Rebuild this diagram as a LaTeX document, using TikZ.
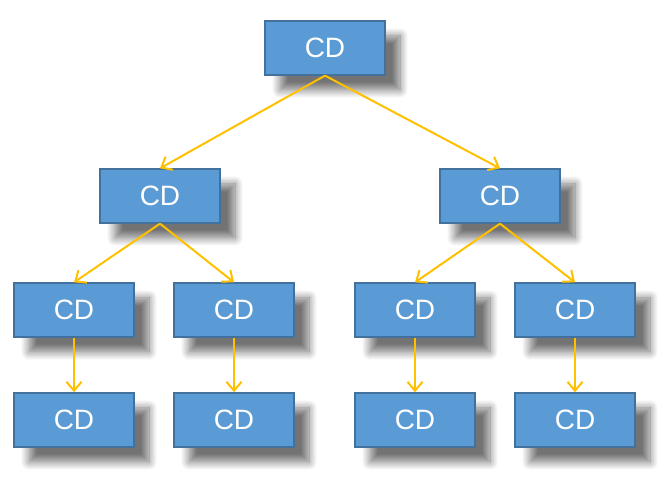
\documentclass[tikz,border=0pt]{standalone}
\usepackage{fontspec}
\setmainfont{Liberation Sans}
\usetikzlibrary{arrows.meta,shadows.blur}
\definecolor{boxfill}{HTML}{5B9BD5}
\definecolor{boxline}{HTML}{41719C}
\definecolor{link}{HTML}{FFC000}

\begin{document}
\begin{tikzpicture}[
  x=1pt,y=1pt,
  font=\fontsize{28}{32}\selectfont,
  box/.style={draw=boxline, line width=1.3pt, fill=boxfill, text=white,
    minimum width=120pt, minimum height=54pt, inner sep=0pt,
    blur shadow={shadow xshift=15pt, shadow yshift=-15pt,
      shadow blur radius=8pt, shadow blur steps=10, shadow opacity=55}},
  flow/.style={-{Straight Barb[length=9pt,width=15pt]}, line width=2pt, draw=link}
]
\useasboundingbox (0,0) rectangle (670,487);

% Level 1
\node[box] (root) at (325,439) {CD};

% Level 2
\node[box] (left) at (160,291) {CD};
\node[box] (right) at (500,291) {CD};

% Level 3
\node[box] (leftA) at (74,177) {CD};
\node[box] (leftB) at (234,177) {CD};
\node[box] (rightA) at (415,177) {CD};
\node[box] (rightB) at (575,177) {CD};

% Level 4
\node[box] (leftAleaf) at (74,67) {CD};
\node[box] (leftBleaf) at (234,67) {CD};
\node[box] (rightAleaf) at (415,67) {CD};
\node[box] (rightBleaf) at (575,67) {CD};

\draw[flow] (root.south) -- (left.north);
\draw[flow] (root.south) -- (right.north);
\draw[flow] (left.south) -- (leftA.north);
\draw[flow] (left.south) -- (leftB.north);
\draw[flow] (right.south) -- (rightA.north);
\draw[flow] (right.south) -- (rightB.north);
\draw[flow] (leftA.south) -- (leftAleaf.north);
\draw[flow] (leftB.south) -- (leftBleaf.north);
\draw[flow] (rightA.south) -- (rightAleaf.north);
\draw[flow] (rightB.south) -- (rightBleaf.north);

\end{tikzpicture}
\end{document}
